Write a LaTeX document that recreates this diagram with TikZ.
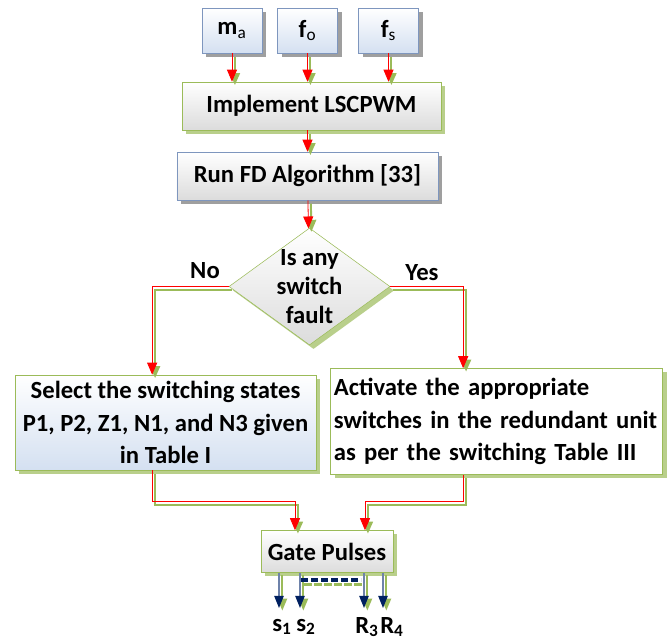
\documentclass[tikz,border=0pt]{standalone}
\usepackage{fontspec}
\setmainfont{Carlito}
\definecolor{fcblue}{RGB}{126,150,190}
\definecolor{fclightblue}{RGB}{212,224,241}
\definecolor{fcgreen}{RGB}{155,187,89}
\definecolor{fcgray}{RGB}{220,220,220}
\definecolor{fcred}{RGB}{255,0,0}
\definecolor{fcnavy}{RGB}{0,32,96}
\definecolor{fcslate}{RGB}{110,130,170}
\usetikzlibrary{arrows.meta,shapes.geometric,shadows}

\begin{document}
\begin{tikzpicture}[x=0.75pt,y=-0.75pt,font=\fontsize{18.5}{24.5}\selectfont\bfseries,
  grayshadow/.style={drop shadow={shadow xshift=3pt,shadow yshift=-3pt,fill=gray!75,opacity=1}},
  greenshadow/.style={drop shadow={shadow xshift=3pt,shadow yshift=-3pt,fill=fcgreen!70,opacity=1}},
  inbox/.style={draw=fcblue,top color=white,bottom color=fclightblue,minimum width=45pt,minimum height=33.75pt,grayshadow},
  stepbox/.style={draw=#1,top color=white,bottom color=fcgray,minimum height=36pt},
  flow/.style={fcred,line width=0.6pt,-{Triangle[length=9pt,width=7.5pt]},
    preaction={draw=fcgreen,line width=1.5pt,-{Triangle[length=9pt,width=7.5pt]},transform canvas={xshift=2.2pt,yshift=-2.5pt}}},
  outflow/.style={fcslate,line width=0.9pt,-{Triangle[length=9pt,width=7pt,color=fcnavy]},
    preaction={draw=fcgreen,line width=1.5pt,-{Triangle[length=9pt,width=7pt]},transform canvas={xshift=2.5pt,yshift=-2pt}}},
  dashlink/.style={fcnavy,line width=3pt,dash pattern=on 5.5pt off 2pt,
    preaction={draw=fcgreen,line width=2.5pt,dash pattern=on 5.5pt off 2pt,transform canvas={xshift=2.5pt,yshift=-3.5pt}}}]
  \useasboundingbox (0,0) rectangle (669,641);
  % inputs
  \node[inbox] (ma) at (232,30.5) {m\textsubscript{\mdseries a}};
  \node[inbox] (fo) at (307.5,30.5) {f\textsubscript{\mdseries o}};
  \node[inbox] (fs) at (388.5,30.5) {f\textsubscript{\mdseries s}};
  \node[stepbox=fcgreen,minimum width=194pt,greenshadow] (impl) at (311.5,106) {Implement LSCPWM};
  \node[stepbox=fcblue,minimum width=196pt,grayshadow] (runfd) at (307.5,176) {Run FD Algorithm [33]};
  \draw[flow] (ma) -- (ma |- impl.north);
  \draw[flow] (fo) -- (fo |- impl.north);
  \draw[flow] (fs) -- (fs |- impl.north);
  \draw[flow] (runfd.north |- impl.south) -- (runfd.north);
  % decision
  \node[diamond,draw=fcgreen,top color=white,bottom color=fcgray,minimum width=120.75pt,minimum height=87.75pt,
    inner sep=-25pt,align=center,font=\fontsize{18.5}{21.5}\selectfont\bfseries,greenshadow] (fault) at (309.5,286.5) {Is any\\switch\\fault};
  \draw[flow] (runfd) -- (fault);
  \node (no) at (205,271) {No};
  \node (yes) at (422,273) {Yes};
  % branches
  \node[draw=fcgreen,top color=white,bottom color=fclightblue,minimum width=225.75pt,minimum height=71.25pt,align=center,greenshadow] (sel) at (165.5,422.5)
    {Select the switching states\\P1, P2, Z1, N1, and N3 given\\in Table I};
  \node[draw=fcgreen,fill=white,minimum height=79.5pt,text width=244pt,inner xsep=2.5pt,align=left,greenshadow] (act) at (496.5,421.5)
    {Activate the appropriate\\switches in the redundant unit\\as per the switching Table III};
  \draw[flow] (fault.west) -| ([xshift=-10pt]sel.north);
  \draw[flow] (fault.east) -| ([xshift=-25pt]act.north);
  % gate pulses
  \node[stepbox=fcgreen,minimum width=99pt,minimum height=31.5pt,greenshadow] (gate) at (327,551.5) {Gate Pulses};
  \draw[flow] ([xshift=-10pt]sel.south) -- ++(0,31) -| ([xshift=-24pt]gate.north);
  \draw[flow] ([xshift=-25pt]act.south) -- ++(0,27) -| ([xshift=28.5pt]gate.north);
  \coordinate (s1tip) at (279,608);
  \coordinate (s2tip) at (300,608);
  \coordinate (r3tip) at (364,608);
  \coordinate (r4tip) at (383,608);
  \foreach \t in {s1tip,s2tip,r3tip,r4tip}
    \draw[outflow] (gate.south -| \t) -- (\t);
  \coordinate (dl) at (301,580);
  \coordinate (dr) at (361,580);
  \draw[dashlink] (dl) -- (dr);
  \node[inner sep=0pt] (s1) at (282,627) {s\textsubscript{1}};
  \node[inner sep=0pt] (s2) at (306,627) {s\textsubscript{2}};
  \node[inner sep=0pt] (r3) at (367,627) {R\textsubscript{3}};
  \node[inner sep=0pt] (r4) at (392,627) {R\textsubscript{4}};
\end{tikzpicture}
\end{document}
